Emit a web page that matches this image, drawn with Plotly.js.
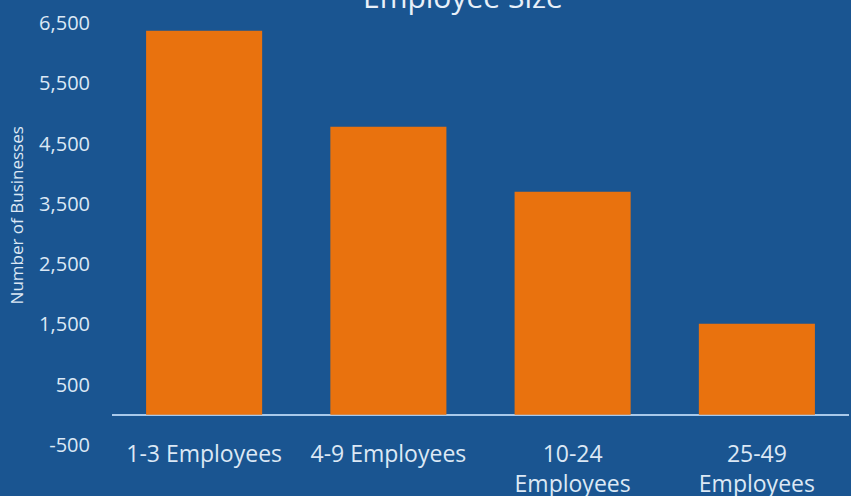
<!DOCTYPE html>
<html>
<head>
<meta charset="utf-8">
<script src="https://cdn.plot.ly/plotly-3.0.1.min.js"></script>
<style>html,body{margin:0;padding:0;background:#1a5591;}#chart{width:851px;height:496px;}</style>
</head>
<body>
<div id="chart"></div>
<script>
const categories = ["1-3 Employees", "4-9 Employees", "10-24<br>Employees", "25-49<br>Employees"];
const businesses = [6370, 4780, 3700, 1510];
const yTickVals = [-500, 500, 1500, 2500, 3500, 4500, 5500, 6500];
const yTickText = ["-500", "500", "1,500", "2,500", "3,500", "4,500", "5,500", "6,500"];

const font = "Open Sans, Noto Sans, sans-serif";
const trace = {
  type: "bar",
  x: categories,
  y: businesses,
  marker: {color: "#e9720e", line: {width: 0}},
  hoverinfo: "none"
};
const layout = {
  width: 851, height: 496,
  margin: {l: 112, r: 2, t: 23, b: 51, pad: 0, autoexpand: false},
  paper_bgcolor: "#1a5591",
  plot_bgcolor: "#1a5591",
  bargap: 0.37,
  showlegend: false,
  font: {family: font, color: "#dce8f5"},
  title: {
    text: "Employee Size",
    font: {family: font, size: 30, color: "#e8f0f9"},
    x: 0.544, xanchor: "center", xref: "container",
    y: 0.984, yanchor: "bottom", yref: "container"
  },
  xaxis: {
    type: "category",
    showgrid: false, showline: false, zeroline: false,
    ticks: "", ticklen: 0, automargin: false,
    ticklabelstandoff: -7,
    tickfont: {family: font, size: 23, color: "#dce8f5"}
  },
  yaxis: {
    range: [-500, 6500],
    tickvals: yTickVals, ticktext: yTickText,
    showgrid: false, showline: false, automargin: false,
    zeroline: true, zerolinecolor: "#a9c9ea", zerolinewidth: 1.5,
    ticks: "", ticklabelstandoff: 21,
    tickfont: {family: font, size: 20, color: "#dce8f5"}
  },
  annotations: [{
    text: "Number of Businesses",
    textangle: -90,
    xref: "paper", yref: "paper",
    x: -0.1295, y: 0.543,
    xanchor: "center", yanchor: "middle",
    showarrow: false,
    font: {family: font, size: 17, color: "#dce8f5"}
  }]
};
Plotly.newPlot("chart", [trace], layout, {staticPlot: true, displayModeBar: false});
</script>
</body>
</html>
